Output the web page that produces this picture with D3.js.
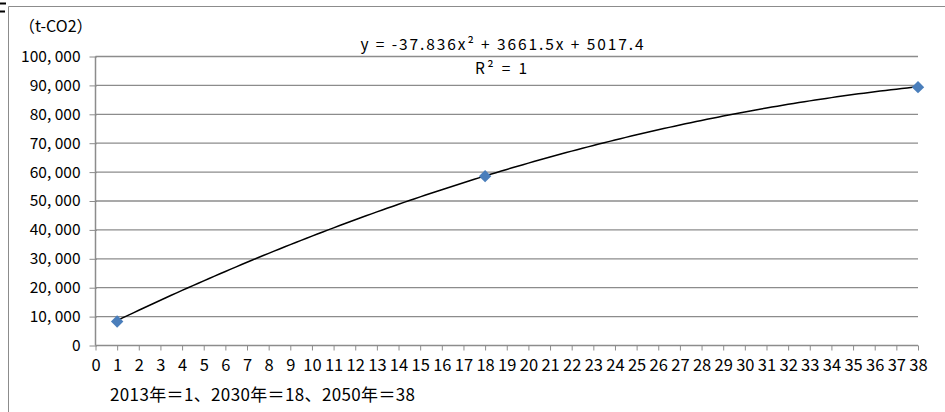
<!DOCTYPE html>
<html><head><meta charset="utf-8">
<script src="https://cdn.jsdelivr.net/npm/d3@7"></script>
<style>
html,body{margin:0;padding:0;background:#fff;}
svg{display:block;}
text{font-family:"Noto Sans CJK JP","Noto Sans",sans-serif;fill:#000;}
</style></head>
<body>
<svg id="c" width="945" height="412"></svg>
<script>
// ---- data ----
const pointX = [1, 18, 38];
const pointY = [8300, 58600, 89400];
const trendCoef = [-37.836, 3661.5, 5017.4]; // a, b, c  (y = a x^2 + b x + c)
const xTicks = d3.range(0, 39);
const yTicks = [0,10000,20000,30000,40000,50000,60000,70000,80000,90000,100000];
const unitLabel = "（t-CO2）";
const eqLabel = "y = -37.836x² + 3661.5x + 5017.4";
const r2Label = "R² = 1";
const xTitle = "2013年＝1、2030年＝18、2050年＝38";

const svg = d3.select("#c");
const L = 95.5, R = 918, T = 56.5, B = 345.5;
const x = d3.scaleLinear().domain([0, 38]).range([L, R]);
const y = d3.scaleLinear().domain([0, 100000]).range([B, T]);
const grey = "#8c8c8c";

// outer frame
svg.append("path").attr("d", "M8.5,412V6.5H945").attr("fill","none").attr("stroke",grey).attr("stroke-width",1);
// corner fragment
svg.append("path").attr("d","M0,3.5H6M0,11.5H5").attr("stroke","#000").attr("stroke-width",2);

// gridlines
svg.append("g").selectAll("line").data(yTicks.filter(d => d > 0)).join("line")
  .attr("x1", L).attr("x2", R).attr("y1", d => y(d)).attr("y2", d => y(d))
  .attr("stroke", grey).attr("stroke-width", 1.3);

// y axis
const yAxis = svg.append("g").attr("transform", `translate(${L},0)`)
  .call(d3.axisLeft(y).tickValues(yTicks).tickSize(6).tickPadding(9)
    .tickFormat(d => d3.format(",")(d).replace(",", ", ")));
yAxis.select(".domain").attr("stroke", grey).attr("stroke-width", 1.5).attr("d", `M0,${T}V${B}`);
yAxis.selectAll(".tick line").attr("stroke", grey).attr("x2", -6).attr("x1", 1.5);
yAxis.selectAll("text").style("font-size", "15.5px");

// x axis
const xAxis = svg.append("g").attr("transform", `translate(0,${B})`)
  .call(d3.axisBottom(x).tickValues(xTicks).tickSize(5).tickPadding(9).tickFormat(d3.format("d")));
xAxis.select(".domain").attr("stroke", grey).attr("stroke-width", 1.5).attr("d", `M${L},0H${R}`);
xAxis.selectAll(".tick line").attr("stroke", grey);
xAxis.selectAll("text").style("font-size", "16.5px");

// trendline
const trend = d3.range(1, 38.001, 0.25).map(v => [v, trendCoef[0]*v*v + trendCoef[1]*v + trendCoef[2]]);
svg.append("path").datum(trend)
  .attr("d", d3.line().x(d => x(d[0])).y(d => y(d[1])))
  .attr("fill", "none").attr("stroke", "#000").attr("stroke-width", 1.5);

// points
svg.append("g").selectAll("path").data(pointX.map((v, i) => [v, pointY[i]])).join("path")
  .attr("d", d3.symbol().type(d3.symbolDiamond2).size(98))
  .attr("transform", d => `translate(${x(d[0])},${y(d[1])})`)
  .attr("fill", "#4a7ebb");

// labels
svg.append("text").attr("x", 19).attr("y", 32).style("font-size", "16px").text(unitLabel);
svg.append("text").attr("x", 502).attr("y", 50).attr("text-anchor", "middle").style("font-size", "15.5px")
  .attr("textLength", 283).text(eqLabel);
svg.append("text").attr("x", 501).attr("y", 74).attr("text-anchor", "middle").style("font-size", "15.5px")
  .attr("textLength", 52).text(r2Label);
svg.append("text").attr("x", 110).attr("y", 401).style("font-size", "17px").attr("textLength", 305).text(xTitle);
</script>
</body></html>
